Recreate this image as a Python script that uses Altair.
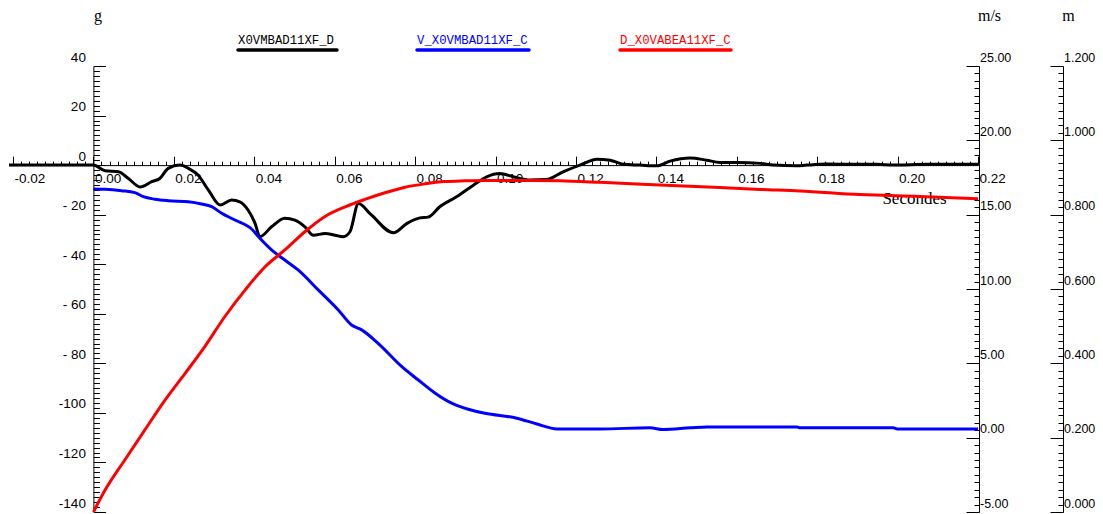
import altair as alt
import pandas as pd

# ---------------- data ----------------
# black: acceleration (g)
t_black = [-0.021, 0.0, 0.0029, 0.0062, 0.0087, 0.0116, 0.0145, 0.0165, 0.0186, 0.0215,
           0.0236, 0.0260, 0.0286, 0.0315, 0.0344, 0.0364, 0.0385, 0.0402, 0.0414, 0.0443,
           0.0476, 0.0501, 0.0526, 0.0547, 0.0576, 0.0601, 0.0621, 0.0638, 0.0659, 0.0690,
           0.0746, 0.0780, 0.0812, 0.0832, 0.0862, 0.0903, 0.0945, 0.0978, 0.1011, 0.1044,
           0.1086, 0.1127, 0.1168, 0.1210, 0.1252, 0.1285, 0.1318, 0.1359, 0.1401, 0.1434,
           0.1484, 0.1525, 0.1558, 0.1600, 0.1658, 0.1691, 0.1749, 0.1774, 0.1824, 0.1882,
           0.1948, 0.1990, 0.2073, 0.2200]
g_black = [0, 0, -2.3, -2.7, -5.4, -8.8, -6.7, -5.4, -1.3, 0,
           -1.3, -4.0, -10.1, -16.1, -14.1, -14.8, -18.2, -23.5, -28.9, -24.9,
           -21.4, -22.2, -24.9, -28.3, -27.6, -28.3, -28.9, -26.9, -15.5, -19.9,
           -27.3, -23.5, -21.3, -21.0, -16.7, -12.8, -8.1, -4.7, -3.4, -4.7,
           -6.0, -5.8, -2.7, 0, 2.4, 2.0, 0.3, 0, -0.3, 1.6,
           2.9, 2.0, 1.1, 1.1, 0.7, 0, -0.3, 0, 0.4, 0.3,
           0.3, 0, 0.3, 0.3]

# blue: velocity (m/s)
t_blue = [0.0, 0.0029, 0.0070, 0.0103, 0.0124, 0.0153, 0.0186, 0.0236, 0.0269, 0.0294,
          0.0319, 0.0352, 0.0394, 0.0414, 0.0443, 0.0476, 0.0509, 0.0559, 0.0609, 0.0642,
          0.0667, 0.0708, 0.0767, 0.0808, 0.0850, 0.0891, 0.0932, 0.0974, 0.1053, 0.1103,
          0.1153, 0.1260, 0.1384, 0.1417, 0.1484, 0.1526, 0.1750, 0.1757, 0.1989, 0.1999,
          0.2200]
v_blue = [16.73, 16.71, 16.61, 16.48, 16.21, 16.04, 15.94, 15.87, 15.72, 15.54,
          15.09, 14.64, 14.02, 13.41, 12.63, 11.95, 11.28, 9.94, 8.59, 7.58,
          7.25, 6.35, 4.78, 3.88, 2.99, 2.32, 1.91, 1.64, 1.31, 0.92,
          0.59, 0.59, 0.66, 0.55, 0.66, 0.72, 0.72, 0.66, 0.66, 0.59,
          0.59]

# red: displacement (m)
t_red = [0.0, 0.0029, 0.0078, 0.0128, 0.0178, 0.0228, 0.0277, 0.0327, 0.0377, 0.0427,
         0.0476, 0.0526, 0.0576, 0.0626, 0.0675, 0.0725, 0.0775, 0.0825, 0.0874, 0.0924,
         0.0974, 0.1086, 0.1160, 0.1260, 0.1409, 0.1558, 0.1658, 0.1757, 0.1906, 0.2055,
         0.2200]
d_red = [0.0, 0.059, 0.140, 0.221, 0.301, 0.373, 0.445, 0.526, 0.597, 0.660,
         0.705, 0.754, 0.795, 0.821, 0.841, 0.859, 0.874, 0.883, 0.889, 0.891,
         0.892, 0.892, 0.891, 0.887, 0.880, 0.873, 0.868, 0.864, 0.854, 0.849,
         0.843]

legend_names = ["X0VMBAD11XF_D", "V_X0VMBAD11XF_C", "D_X0VABEA11XF_C"]
legend_colors = ["#000000", "#0000FF", "#FF0000"]

x_domain = [-0.021, 0.22]
g_domain = [-140, 40]
v_domain = [-5, 25]
m_domain = [0, 1.2]

# ---------------- layout / style ----------------
W, H = 969, 446
X0 = 84.4  # pixel position of t = 0 inside the plot
LAB_FONT = "Liberation Sans"
LAB_SIZE = 13.5
RLAB_SIZE = 12.5
TIT_FONT = "Liberation Serif"


def tick_values(lo, hi, step, nd):
    n = int(round((hi - lo) / step))
    return [round(lo + i * step, nd) for i in range(n + 1)]


common = dict(grid=False, domainColor="black", tickColor="black", labelColor="black",
              domainWidth=1, tickWidth=1, labelFont=LAB_FONT,
              labelOverlap=False, labelFlush=False, titleColor="black",
              titleFont=TIT_FONT, titleFontWeight="normal", titleAngle=0)

x_major = "abs(round(datum.value*500)) % 10 == 0"
x_axis = alt.Axis(
    orient="top", offset=-(H * 40 / 180),
    values=tick_values(-0.02, 0.22, 0.002, 3),
    labelExpr=f"!({x_major}) ? '' : (datum.value < 0 ? '-' + format(abs(datum.value), '.2f') : format(datum.value, '.2f'))",
    tickSize={"condition": {"test": x_major, "value": 9}, "value": 4},
    labelAlign="left", labelBaseline="top", labelPadding=-15, labelOffset=1,
    labelFontSize=LAB_SIZE,
    title="Secondes", titleX=905, titleY=38, titleAlign="center",
    titleBaseline="alphabetic", titleFontSize=17, **common)

g_major = "datum.value % 20 == 0"
g_axis = alt.Axis(
    orient="right", offset=-(W - X0),
    values=tick_values(-140, 40, 2, 0),
    labelExpr=f"!({g_major}) ? '' : ((datum.value < 0 && datum.value > -100) ? '- ' + abs(datum.value) : '' + datum.value)",
    tickSize={"condition": {"test": g_major, "value": 12}, "value": 6},
    labelAlign="right", labelBaseline="alphabetic", labelPadding=-20, labelOffset=-5,
    labelFontSize=LAB_SIZE,
    title="g", titleX=4, titleY=-46, titleAlign="center", titleBaseline="alphabetic",
    titleFontSize=16, **common)

v_major = "abs(round(datum.value*2)) % 10 == 0"
v_axis = alt.Axis(
    orient="left", offset=-(W + 1),
    values=tick_values(-5, 25, 0.5, 1),
    labelExpr=f"!({v_major}) ? '' : (datum.value < 0 ? '-' + format(abs(datum.value), '.2f') : format(datum.value, '.2f'))",
    tickSize={"condition": {"test": v_major, "value": 13}, "value": 5},
    labelAlign="left", labelBaseline="alphabetic", labelPadding=-13.5, labelOffset=-5,
    labelFontSize=RLAB_SIZE,
    title="m/s", titleX=10, titleY=-46, titleAlign="center", titleBaseline="alphabetic",
    titleFontSize=16, **common)

m_major = "round(datum.value*50) % 10 == 0"
m_axis = alt.Axis(
    orient="left", offset=-(W + 85),
    values=tick_values(0, 1.2, 0.02, 2),
    labelExpr=f"!({m_major}) ? '' : format(datum.value, '.3f')",
    tickSize={"condition": {"test": m_major, "value": 13}, "value": 5},
    labelAlign="left", labelBaseline="alphabetic", labelPadding=-13.5, labelOffset=-5,
    labelFontSize=RLAB_SIZE,
    title="m", titleX=5, titleY=-46, titleAlign="center", titleBaseline="alphabetic",
    titleFontSize=16, **common)

df_black = pd.DataFrame({"t": t_black, "g": g_black})
df_blue = pd.DataFrame({"t": t_blue, "v": v_blue})
df_red = pd.DataFrame({"t": t_red, "d": d_red})

xs = alt.Scale(domain=x_domain, nice=False, zero=False)

black = alt.Chart(df_black).mark_line(color="#000000", strokeWidth=3, interpolate="monotone").encode(
    x=alt.X("t:Q", scale=xs, axis=x_axis),
    y=alt.Y("g:Q", scale=alt.Scale(domain=g_domain, nice=False, zero=False), axis=g_axis),
)
blue = alt.Chart(df_blue).mark_line(color="#0000FF", strokeWidth=3, interpolate="monotone").encode(
    x=alt.X("t:Q", scale=xs, axis=None),
    y=alt.Y("v:Q", scale=alt.Scale(domain=v_domain, nice=False, zero=False), axis=v_axis),
)
red = alt.Chart(df_red).mark_line(color="#FF0000", strokeWidth=3, interpolate="monotone").encode(
    x=alt.X("t:Q", scale=xs, axis=None),
    y=alt.Y("d:Q", scale=alt.Scale(domain=m_domain, nice=False, zero=False), axis=m_axis),
)

# legend (drawn above the plot, text over a thick coloured line)
leg_text_x = [229, 408, 611]
leg_line_x2 = [328, 520, 722]
legend_layers = []
one = pd.DataFrame({"k": [0]})
for name, col, lx, lx2 in zip(legend_names, legend_colors, leg_text_x, leg_line_x2):
    legend_layers.append(
        alt.Chart(one).mark_text(align="left", baseline="alphabetic", font="Liberation Mono",
                                 fontSize=12.3, color=col, text=name)
        .encode(x=alt.value(lx), y=alt.value(-22.5))
    )
    legend_layers.append(
        alt.Chart(one).mark_rule(color=col, strokeWidth=3.5, strokeCap="round")
        .encode(x=alt.value(lx), x2=alt.value(lx2), y=alt.value(-16))
    )

chart = (
    alt.layer(black, blue, red, *legend_layers)
    .resolve_scale(x="independent", y="independent")
    .properties(width=W, height=H, autosize=alt.AutoSizeParams(type="none"),
                padding={"left": 1, "top": 58, "right": 117, "bottom": 2},
                background="white")
    .configure_view(strokeWidth=0)
)

chart.save("out.html", embed_options={"renderer": "svg", "actions": False})
